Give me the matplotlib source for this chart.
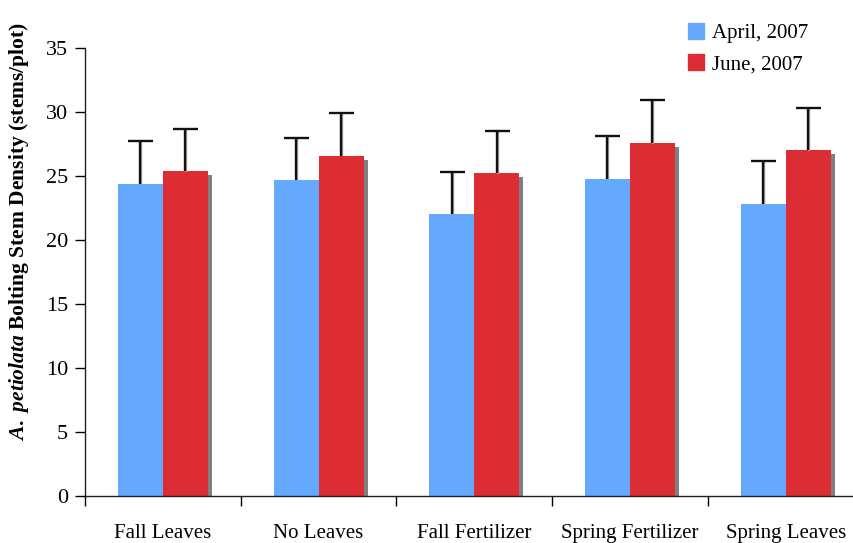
import numpy as np
import matplotlib
matplotlib.use('Agg')
import matplotlib.pyplot as plt
import matplotlib.patheffects as pe
from matplotlib.patches import Patch

plt.rcParams['font.family'] = ['Liberation Serif', 'DejaVu Serif']
plt.rcParams['mathtext.fontset'] = 'custom'
plt.rcParams['mathtext.rm'] = 'Liberation Serif:bold'
plt.rcParams['mathtext.it'] = 'Liberation Serif:italic:bold'
plt.rcParams['mathtext.bf'] = 'Liberation Serif:bold'

#  treatments along the x axis
categories = ['Fall Leaves', 'No Leaves', 'Fall Fertilizer',
              'Spring Fertilizer', 'Spring Leaves']
series_names = ['April, 2007', 'June, 2007']

#  mean stem density and upper error (stems/plot)
april = [24.4, 24.7, 22.0, 24.8, 22.8]
april_err = [3.3, 3.3, 3.3, 3.3, 3.4]
june = [25.4, 26.6, 25.2, 27.6, 27.0]
june_err = [3.3, 3.3, 3.3, 3.3, 3.3]

blue = '#64a9fe'
red = '#dc2c34'

fig = plt.figure(figsize=(8.54, 5.43), dpi=100)
ax = fig.add_axes([0.0995, 0.0866, 0.9116, 0.825])

x = np.arange(len(categories))
w = 0.289
shadow = [pe.SimplePatchShadow(offset=(2.9, -2.9), shadow_rgbFace='#808080', alpha=1.0), pe.Normal()]

b1 = ax.bar(x - w/2, april, w, color=blue, zorder=2)
b2 = ax.bar(x + w/2, june, w, color=red, zorder=2)
for p in list(b1) + list(b2):
    p.set_path_effects(shadow)

line_shadow = [pe.SimpleLineShadow(offset=(0.7, -0.7), shadow_color='#a0a0a0', alpha=1.0), pe.Normal()]
for xs, ys, es in [(x - w/2, april, april_err), (x + w/2, june, june_err)]:
    eb = ax.errorbar(xs, ys, yerr=[np.zeros(len(es)), es], fmt='none',
                     ecolor='#111111', elinewidth=1.7, capsize=9, capthick=1.7, zorder=3)
    eb[1][0].set_visible(False)
    for art in eb[2]:
        art.set_path_effects(line_shadow)

ax.set_xlim(-0.5, len(categories) - 0.5)
ax.set_ylim(0, 35)
ax.set_yticks(np.arange(0, 36, 5))
ax.tick_params(axis='y', labelsize=16, length=7, width=1, direction='out', pad=5)

ax.set_xticks(x)
ax.set_xticklabels(categories, fontsize=15)
ax.set_xticks(np.arange(-0.5, len(categories), 1), minor=True)
ax.tick_params(axis='x', which='major', length=0, pad=20)
ax.tick_params(axis='x', which='minor', length=7, width=1, direction='out')

for s in ['top', 'right']:
    ax.spines[s].set_visible(False)
for s in ['left', 'bottom']:
    ax.spines[s].set_linewidth(1.0)
    ax.spines[s].set_color('#222222')

fig.text(19/854, 1 - 232/543, r'$\mathit{A.\ petiolata}$ Bolting Stem Density (stems/plot)',
         rotation=90, ha='center', va='center', fontsize=15.5, fontweight='bold')

handles = [Patch(color=blue), Patch(color=red)]
fig.legend(handles, series_names, loc='upper left', bbox_to_anchor=(669/854, 1 - 4/543),
           frameon=False, fontsize=15, handlelength=0.8, handleheight=0.8,
           handletextpad=0.35, labelspacing=0.55)

fig.savefig('out.png', dpi=100)
